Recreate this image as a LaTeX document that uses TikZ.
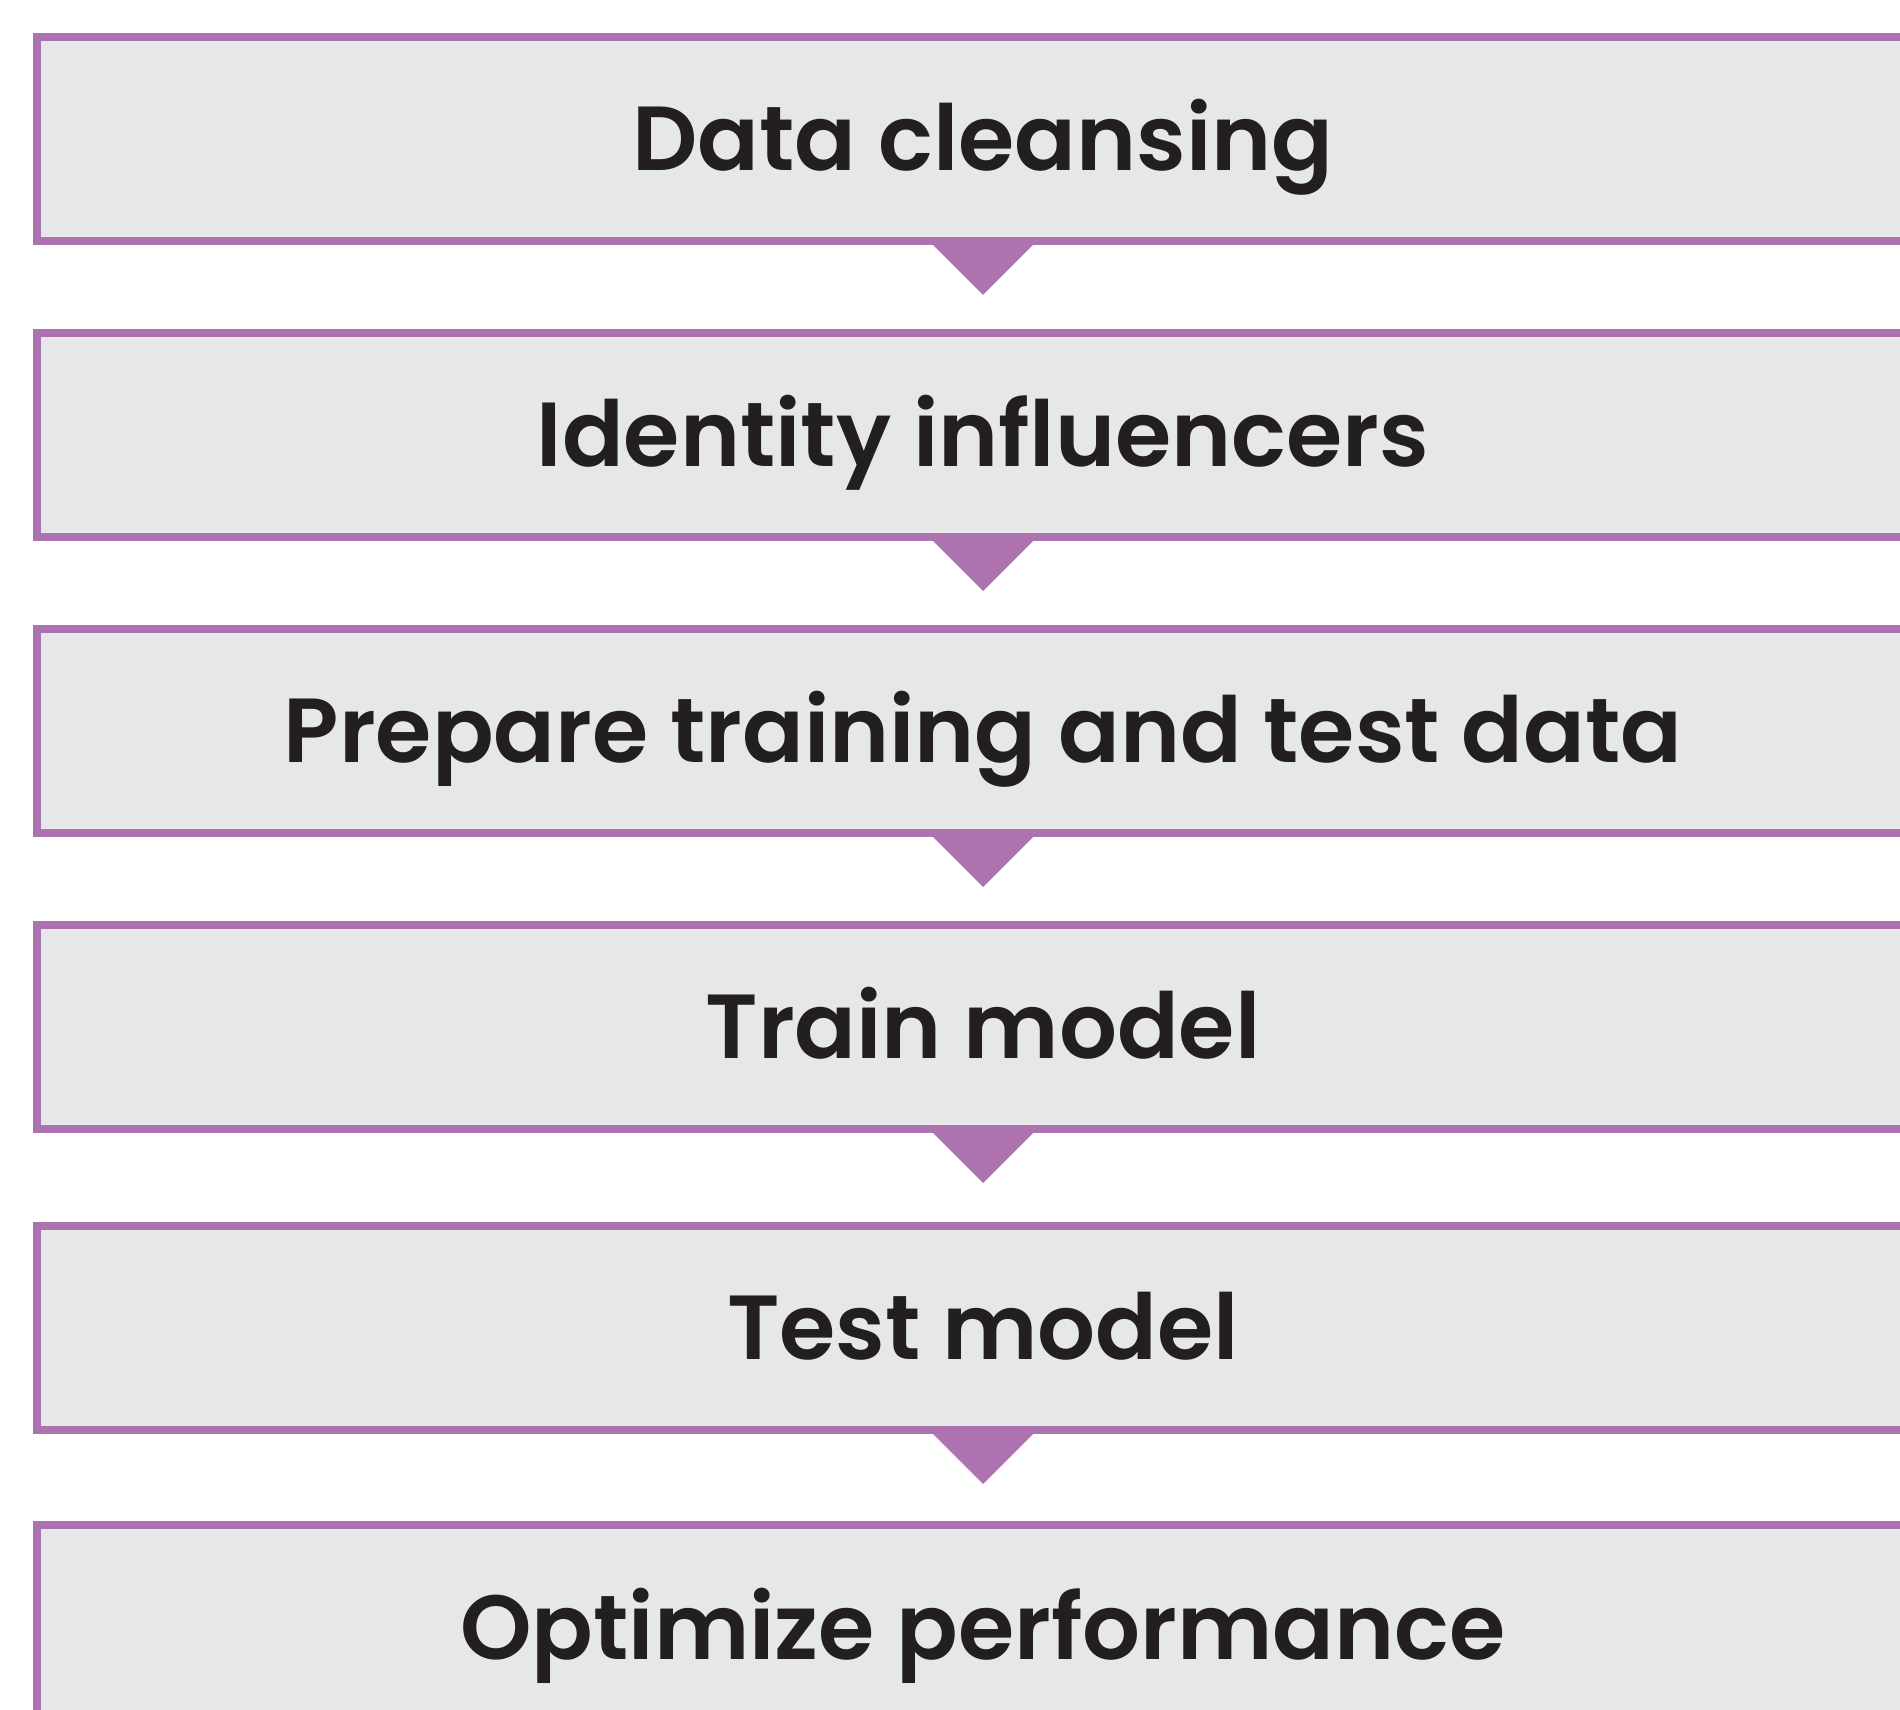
\documentclass[tikz,border=0pt]{standalone}
\usepackage{fontspec}
\setmainfont{Poppins}[BoldFont={Poppins SemiBold}]
\usetikzlibrary{positioning}

\definecolor{stepline}{HTML}{AD72B0}
\definecolor{stepfill}{HTML}{E6E7E9}
\definecolor{steptext}{HTML}{231F20}

\tikzset{
	stepbox/.style={draw=stepline, fill=stepfill, line width=0.16cm,
		minimum width=37.84cm, minimum height=4.08cm,
		text height=1.28cm, text depth=0pt, text=steptext,
		font=\fontsize{51.8}{58}\selectfont\bfseries},
	pointer/.style={fill=stepline}
}

\begin{document}
\begin{tikzpicture}[node distance=1.68cm]
	\useasboundingbox (0,0) rectangle (38,34.18);
	\clip (0,0) rectangle (38,34.18);
	% the six steps, top to bottom
	\node[stepbox] (clean) at (19.66,31.40) {Data cleansing};
	\node[stepbox, below=of clean] (infl) {Identity influencers};
	\node[stepbox, below=of infl] (prep) {Prepare training and test data};
	\node[stepbox, below=of prep] (train) {Train model};
	\node[stepbox, below=1.78cm of train] (test) {Test model};
	\node[stepbox, below=1.74cm of test] (optim) {Optimize performance};
	% pointers under each box
	\foreach \a in {clean,infl,prep,train,test}
		\fill[pointer] (\a.south) ++(-1,0) -- ++(1,-1) -- ++(1,1) -- cycle;
\end{tikzpicture}
\end{document}
